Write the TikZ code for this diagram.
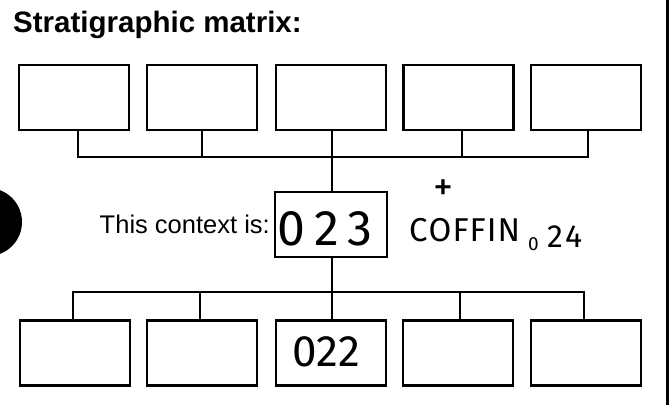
\documentclass[tikz,border=0pt]{standalone}
\usepackage{fontspec}
\setmainfont{Liberation Sans}
\newfontfamily\hand{Fira Sans}
\begin{document}
\begin{tikzpicture}[x=1pt,y=-1pt,
  box/.style={draw,line width=2.7pt,minimum width=110pt,minimum height=65pt,inner sep=0pt},
  conn/.style={line width=2.4pt},
  handw/.style={inner sep=0pt,font=\hand}]
\useasboundingbox (0,0) rectangle (671,405);
% title
\node[anchor=base west,inner sep=0pt,font=\bfseries\fontsize{29.5}{32}\selectfont] (title) at (13,32) {Stratigraphic matrix:};
% top boxes
\node[box] (t1) at (74,97.5) {};
\node[box] (t2) at (202,97.5) {};
\node[box] (t3) at (331,97.5) {};
\node[box] (t4) at (458.5,97.5) {};
\node[box] (t5) at (586,97.5) {};
% middle box
\node[box,minimum width=112pt] (m) at (331,224.5) {};
\node[handw,font=\hand\fontsize{50}{50}\selectfont] (m023) at (325,229) {0\,2\,3};
% bottom boxes
\node[box] (b1) at (75,353) {};
\node[box] (b2) at (202,353) {};
\node[box] (b3) at (331,353) {};
\node[box] (b4) at (458,353) {};
\node[box] (b5) at (586,353) {};
\node[handw,font=\hand\fontsize{44}{44}\selectfont] (b022) at (326,352) {022};
% label
\node[anchor=base east,inner sep=0pt,font=\fontsize{25.5}{28}\selectfont] (lbl) at (270,233) {This context is:};
% handwritten note
\node[handw,font=\hand\fontsize{40}{40}\selectfont] (plus) at (443,190) {+};
\node[handw,anchor=base west,font=\hand\fontsize{33}{33}\selectfont] (coffin) at (409,241) {C\kern1ptO\kern1ptF\kern1ptF\kern1ptI\kern1ptN};
\node[handw,anchor=base west,font=\hand\fontsize{19}{19}\selectfont] (sub0) at (528,250) {0};
\node[handw,anchor=base west,font=\hand\fontsize{32}{32}\selectfont] (n24) at (547,247) {2\kern2pt4};
% top bus
\coordinate (tb1) at (78,157);
\coordinate (tb2) at (202,157);
\coordinate (tb3) at (332,157);
\coordinate (tb4) at (462,157);
\coordinate (tb5) at (588,157);
\draw[conn] (t1.south -| tb1) -- (tb1) -- (tb5) -- (t5.south -| tb5);
\draw[conn] (t2.south -| tb2) -- (tb2);
\draw[conn] (t4.south -| tb4) -- (tb4);
\draw[conn] (t3.south -| tb3) -- (m.north -| tb3);
% bottom bus
\coordinate (bb1) at (73,292);
\coordinate (bb2) at (200,292);
\coordinate (bb3) at (332,292);
\coordinate (bb4) at (460,292);
\coordinate (bb5) at (584,292);
\draw[conn] (b1.north -| bb1) -- (bb1) -- (bb5) -- (b5.north -| bb5);
\draw[conn] (b2.north -| bb2) -- (bb2);
\draw[conn] (b4.north -| bb4) -- (bb4);
\draw[conn] (m.south -| bb3) -- (b3.north -| bb3);
% scan artefacts: punch hole and right edge
\begin{scope}
\clip (0,0) rectangle (671,405);
\fill[black] (-12,222) circle (34);
\end{scope}
\draw[line width=2.8pt] (667.5,0) -- (667.5,405);
\end{tikzpicture}
\end{document}
